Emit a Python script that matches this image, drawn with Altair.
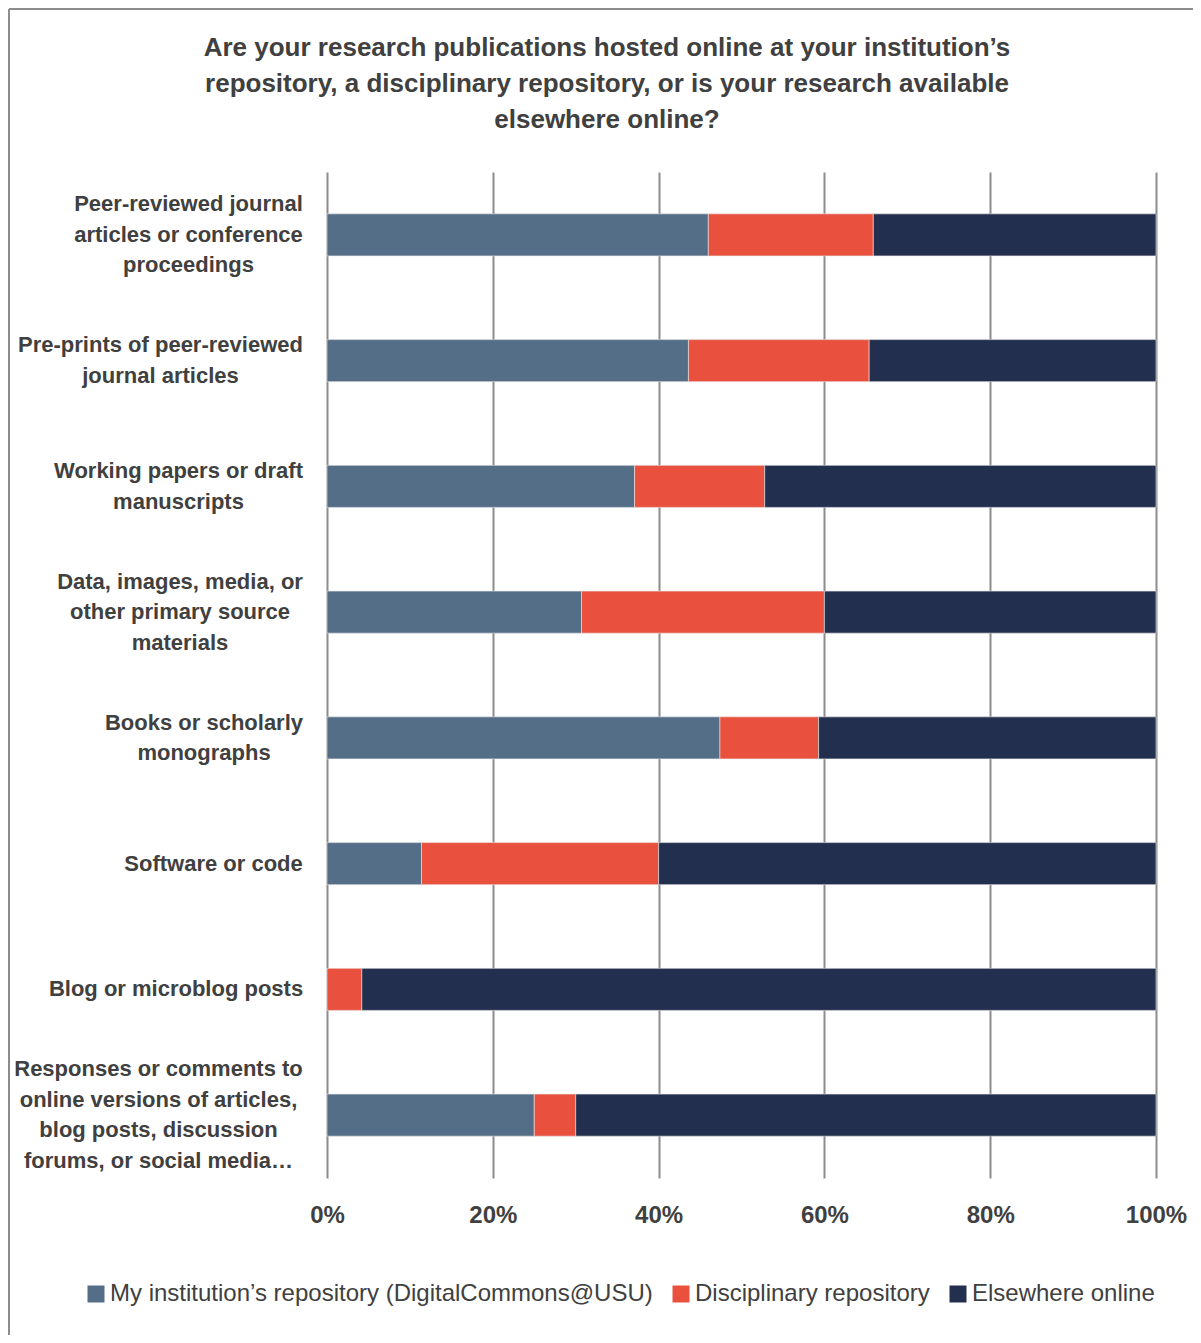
import altair as alt
import pandas as pd

categories = [
    "Peer-reviewed journal|articles or conference|proceedings",
    "Pre-prints of peer-reviewed|journal articles",
    "Working papers or draft|manuscripts",
    "Data, images, media, or|other primary source|materials",
    "Books or scholarly|monographs",
    "Software or code",
    "Blog or microblog posts",
    "Responses or comments to|online versions of articles,|blog posts, discussion|forums, or social media…",
]
series = [
    "My institution’s repository (DigitalCommons@USU)",
    "Disciplinary repository",
    "Elsewhere online",
]
institution = [46.0, 43.6, 37.1, 30.7, 47.4, 11.4, 0.0, 25.0]
disciplinary = [19.9, 21.8, 15.7, 29.3, 11.9, 28.6, 4.2, 5.0]
elsewhere = [34.1, 34.6, 47.2, 40.0, 40.7, 60.0, 95.8, 70.0]
colors = ["#546E88", "#E9503E", "#232F4F"]
x_ticks = [0, 20, 40, 60, 80, 100]
title_text = (
    "Are your research publications hosted online at your institution’s\n"
    "repository, a disciplinary repository, or is your research available\n"
    "elsewhere online?"
)

rows = []
for i, cat in enumerate(categories):
    for k, (s, vals) in enumerate(zip(series, [institution, disciplinary, elsewhere])):
        rows.append({"category": cat, "series": s, "value": vals[i], "order": k})
df = pd.DataFrame(rows)

FONT = "Liberation Sans Narrow, Arial Narrow, Liberation Sans, Arial, sans-serif"
TXT = "#404040"
GRID = "#8c8c8c"
LH = 30.5
nlines = "length(split(datum.label, '|'))"

# style: distance from axis to the centre of each (centre-aligned) label block
label_center_pad = [139, 167, 149, 147.5, 123.5, 114, 151.5, 169]

bars = alt.Chart(df).mark_bar(stroke="#e8e8e8", strokeWidth=0.6).encode(
    x=alt.X(
        "value:Q",
        stack="zero",
        scale=alt.Scale(domain=[0, 100]),
        axis=alt.Axis(
            values=x_ticks,
            labelExpr="datum.value + '%'",
            grid=True,
            gridColor=GRID,
            gridWidth=2,
            domain=False,
            ticks=False,
            labelFlush=False,
            labelOverlap=False,
            labelFont=FONT,
            labelFontSize=24,
            labelFontWeight="bold",
            labelColor=TXT,
            labelPadding=25,
            title=None,
        ),
    ),
    y=alt.Y(
        "category:N",
        sort=categories,
        scale=alt.Scale(paddingInner=0.666, paddingOuter=0.333),
        axis=alt.Axis(
            title=None,
            domain=False,
            ticks=False,
            grid=False,
            labelExpr="split(datum.label, '|')",
            labelFont=FONT,
            labelFontSize=22,
            labelFontWeight="bold",
            labelColor=TXT,
            labelLineHeight=LH,
            labelLimit=1000,
            labelAlign="center",
            labelBaseline="middle",
            labelPadding={
                "condition": [
                    {"test": "datum.label == '" + c + "'", "value": p}
                    for c, p in zip(categories, label_center_pad)
                ],
                "value": 150,
            },
            labelOffset={
                "condition": [
                    {"test": nlines + " == 4", "value": -1.5 * LH},
                    {"test": nlines + " == 3", "value": -1.0 * LH},
                    {"test": nlines + " == 2", "value": -0.5 * LH},
                ],
                "value": 0,
            },
        ),
    ),
    color=alt.Color(
        "series:N",
        scale=alt.Scale(domain=series, range=colors),
        legend=alt.Legend(
            title=None,
            orient="none",
            legendX=-243,
            legendY=1110,
            padding=0,
            direction="horizontal",
            symbolType="square",
            symbolSize=289,
            symbolStrokeWidth=0,
            labelFont=FONT,
            labelFontSize=24,
            labelColor=TXT,
            labelLimit=1000,
            labelOffset=2,
            columnPadding=16,
        ),
    ),
    order=alt.Order("order:Q"),
)

title_df = pd.DataFrame([{"t": title_text}])
title = alt.Chart(title_df).mark_text(
    font=FONT,
    fontSize=26,
    fontWeight="bold",
    color=TXT,
    align="center",
    baseline="top",
    lineBreak="\n",
    lineHeight=36,
).encode(text="t:N", x=alt.value(280), y=alt.value(-137))

frame_df = pd.DataFrame([{"k": 0}])
frame_left = alt.Chart(frame_df).mark_rule(color=GRID, strokeWidth=2).encode(
    x=alt.value(-318), y=alt.value(-163), y2=alt.value(1200)
)
frame_top = alt.Chart(frame_df).mark_rule(color=GRID, strokeWidth=2).encode(
    x=alt.value(-318), x2=alt.value(900), y=alt.value(-163)
)

chart = (
    alt.layer(bars, title, frame_left, frame_top)
    .properties(
        width=829,
        height=1006,
        autosize=alt.AutoSizeParams(type="none"),
        padding={"left": 319, "top": 164, "right": 37, "bottom": 157},
    )
    .configure_view(stroke=None)
)

chart.save("out.html", embed_options={"renderer": "svg", "actions": False})
